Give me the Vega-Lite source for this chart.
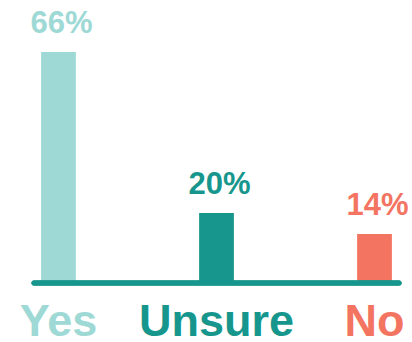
{
  "$schema": "https://vega.github.io/schema/vega-lite/v6.json",
  "width": 365,
  "height": 245,
  "autosize": "none",
  "padding": {"left": 34, "top": 38, "right": 13, "bottom": 59},
  "background": "white",
  "config": {"view": {"stroke": null}, "font": "Liberation Sans"},
  "data": {
    "values": [
      {"answer": "Yes", "pct": 66, "label": "66%"},
      {"answer": "Unsure", "pct": 20, "label": "20%"},
      {"answer": "No", "pct": 14, "label": "14%"}
    ]
  },
  "encoding": {
    "x": {
      "field": "answer",
      "type": "nominal",
      "sort": ["Yes", "Unsure", "No"],
      "scale": {"paddingInner": 0.78, "paddingOuter": 0.045},
      "axis": {
        "title": null,
        "domain": false,
        "ticks": false,
        "labelAngle": 0,
        "labelFontSize": 45,
        "labelFontWeight": "bold",
        "labelFont": "Liberation Sans",
        "labelBaseline": "alphabetic",
        "labelPadding": 52,
        "labelColor": {
          "condition": [
            {"test": "datum.value == 'Yes'", "value": "#9ED9D6"},
            {"test": "datum.value == 'Unsure'", "value": "#16968C"}
          ],
          "value": "#F47462"
        }
      }
    },
    "color": {
      "field": "answer",
      "type": "nominal",
      "scale": {"domain": ["Yes", "Unsure", "No"], "range": ["#9ED9D6", "#16968C", "#F47462"]},
      "legend": null
    }
  },
  "layer": [
    {
      "mark": {"type": "bar"},
      "encoding": {
        "y": {"field": "pct", "type": "quantitative", "scale": {"domain": [0, 70], "nice": false}, "axis": null}
      }
    },
    {
      "mark": {"type": "text", "fontSize": 31, "fontWeight": "bold", "baseline": "alphabetic", "dy": -19, "dx": 3},
      "encoding": {
        "y": {"field": "pct", "type": "quantitative"},
        "text": {"field": "label"}
      }
    },
    {
      "mark": {"type": "rule", "strokeWidth": 5, "strokeCap": "round", "color": "#16968C"},
      "encoding": {
        "y": {"datum": 0},
        "color": {"value": "#16968C"},
        "x": null
      }
    }
  ]
}
